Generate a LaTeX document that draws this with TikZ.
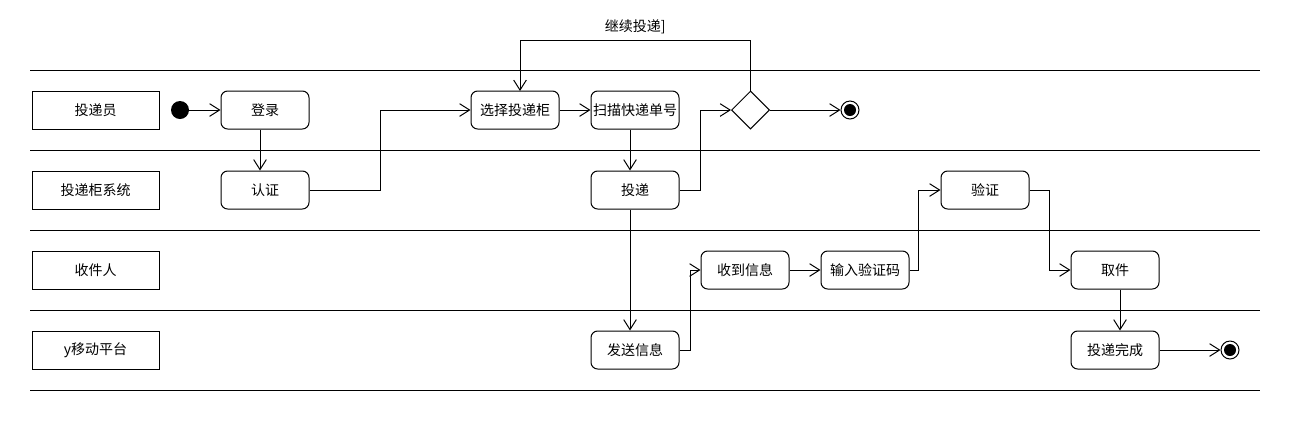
\documentclass[tikz,border=0pt]{standalone}
\usepackage{fontspec}
\setmainfont{Noto Sans CJK SC}
\usetikzlibrary{arrows.meta,shapes.geometric}
\begin{document}
\begin{tikzpicture}[x=0.75pt,y=-0.75pt,
  every node/.style={font=\fontsize{10.5pt}{12pt}\selectfont},
  lane/.style={draw,line width=0.75pt},
  lanebox/.style={draw,line width=0.75pt,minimum width=95.25pt,minimum height=28.5pt,inner sep=0pt},
  act/.style={draw,line width=0.75pt,rounded corners=5pt,minimum width=66pt,minimum height=28.5pt,inner sep=0pt},
  dec/.style={draw,line width=0.75pt,diamond,minimum width=28.5pt,minimum height=28.5pt,inner sep=0pt},
  startn/.style={circle,fill=black,minimum size=13.5pt,inner sep=0pt},
  endn/.style={circle,draw,line width=0.75pt,minimum size=13.5pt,inner sep=0pt,path picture={\fill[black] (path picture bounding box.center) circle (4.5pt);}},
  arr/.style={line width=0.75pt,-{Straight Barb[length=7.5pt,width=9.5pt]}}]
\useasboundingbox (0,0) rectangle (1300,430);
% lane separators
\foreach \yy in {70,150,230,310,390} \draw[lane] (30,\yy) -- (1260,\yy);
% lane labels
\node[lanebox] (l1) at (95.5,110) {投递员};
\node[lanebox] (l2) at (95.5,190) {投递柜系统};
\node[lanebox] (l3) at (95.5,270) {收件人};
\node[lanebox] (l4) at (95.5,350) {y移动平台};
% nodes
\node[startn] (s) at (180,110) {};
\node[act] (dl) at (265,110) {登录};
\node[act] (rz) at (265,190) {认证};
\node[act] (xz) at (515,110) {选择投递柜};
\node[act] (sm) at (635,110) {扫描快递单号};
\node[act] (td) at (635,190) {投递};
\node[dec] (d) at (750.5,110) {};
\node[endn] (e1) at (850,110) {};
\node[act] (fs) at (635,350) {发送信息};
\node[act] (sd) at (745,270) {收到信息};
\node[act] (sr) at (865,270) {输入验证码};
\node[act] (yz) at (985,190) {验证};
\node[act] (qj) at (1115,270) {取件};
\node[act] (wc) at (1115,350) {投递完成};
\node[endn] (e2) at (1230,350) {};
% edges
\draw[arr] (s) -- (dl);
\draw[arr] ([xshift=-3.75pt]dl.south) -- ([xshift=-3.75pt]rz.north);
\draw[arr] (rz.east) -- (380,190) |- (xz.west);
\draw[arr] (xz) -- (sm);
\draw[arr] ([xshift=-3.75pt]sm.south) -- ([xshift=-3.75pt]td.north);
\draw[arr] (td.east) -- (700,190) |- (d.west);
\draw[arr] (d.north) |- (520,40) node[pos=0.75,above=1pt] {继续投递]} -- (520,91);
\draw[arr] (d.east) -- (e1);
\draw[arr] ([xshift=-3.75pt]td.south) -- ([xshift=-3.75pt]fs.north);
\draw[arr] (fs.east) -- (690,350) |- (sd.west);
\draw[arr] (sd) -- (sr);
\draw[arr] (sr.east) -- (918,270) |- (yz.west);
\draw[arr] (yz.east) -- (1049,190) |- (qj.west);
\draw[arr] ([xshift=3.75pt]qj.south) -- ([xshift=3.75pt]wc.north);
\draw[arr] (wc) -- (e2);
\end{tikzpicture}
\end{document}
